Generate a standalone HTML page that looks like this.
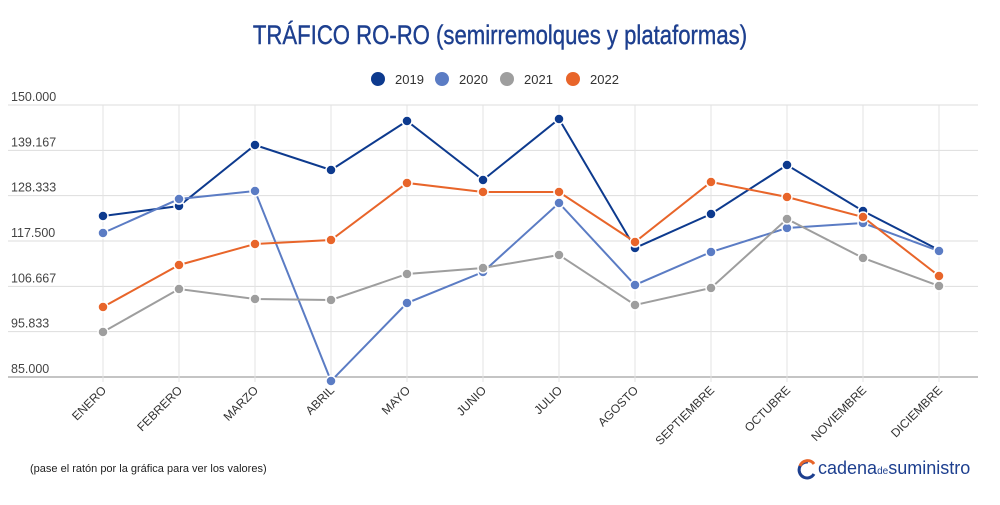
<!DOCTYPE html>
<html><head><meta charset="utf-8"><style>
body{margin:0;background:#fff;width:1000px;height:500px;overflow:hidden;font-family:"Liberation Sans",sans-serif}
</style></head><body>
<svg width="1000" height="500">
<text x="500" y="44" text-anchor="middle" font-size="27" fill="#1d3f8f" stroke="#1d3f8f" stroke-width="0.4" transform="translate(500,0) scale(0.82,1) translate(-500,0)">TRÁFICO RO-RO (semirremolques y plataformas)</text>
<g id="legend"></g>
<g id="grid"></g><g id="series"></g><g id="labels"></g>
<text x="30" y="472" font-size="11" fill="#222">(pase el ratón por la gráfica para ver los valores)</text>
<g>
<path d="M808 462 a8 8 0 1 0 6 12" fill="none" stroke="#1d3f8f" stroke-width="3"/>
<path d="M800 466 a8 8 0 0 1 14 -2" fill="none" stroke="#e8652a" stroke-width="3"/>
<text x="818" y="474" font-size="18" fill="#1d3f8f">cadena<tspan font-size="10">de</tspan>suministro</text>
</g>
</svg>
<script>
const categories=["ENERO","FEBRERO","MARZO","ABRIL","MAYO","JUNIO","JULIO","AGOSTO","SEPTIEMBRE","OCTUBRE","NOVIEMBRE","DICIEMBRE"];
const yTicks=[150000,139167,128333,117500,106667,95833,85000];
const yTickLabels=["150.000","139.167","128.333","117.500","106.667","95.833","85.000"];
const seriesNames=["2019","2020","2021","2022"];
const seriesColors=["#0d3a8e","#5b7cc4","#9e9e9e","#e8652a"];
const s2019=[123470,125860,140440,134470,146180,132080,146660,115830,123950,135660,124670,115350];
const s2020=[119410,127530,129440,84040,102680,110090,126580,106980,114870,120610,121800,115110];
const s2021=[95750,106030,103640,103400,109620,111050,114160,102210,106270,122760,113440,106750];
const s2022=[101730,111770,116790,117740,131370,129210,129210,117260,131600,128020,123230,109140];
const allSeries=[s2019,s2020,s2021,s2022];
const NS="http://www.w3.org/2000/svg";
const x0=8,x1=978,y0=105,y1=377;
const xs=i=>103+i*76.0;
const ys=v=>y1-(v-85000)/(150000-85000)*(y1-y0);
function mk(t,a,p){const e=document.createElementNS(NS,t);for(const k in a)e.setAttribute(k,a[k]);p.appendChild(e);return e;}
const grid=document.getElementById('grid'),ser=document.getElementById('series'),lab=document.getElementById('labels'),leg=document.getElementById('legend');
yTicks.forEach((v,i)=>{
 const l=mk('line',{x1:x0,x2:x1,y1:ys(v),y2:ys(v),stroke:i==yTicks.length-1?'#888':'#ddd','stroke-width':1},grid);
 
 
 const t=mk('text',{x:11,y:ys(v)-4,'font-size':12.5,fill:'#444'},lab);t.textContent=yTickLabels[i];
 
 
});
categories.forEach((c,i)=>{
 const l=mk('line',{x1:xs(i),x2:xs(i),y1:y0,y2:y1+5,stroke:'#e3e3e3','stroke-width':1},grid);
 
 
 const t=mk('text',{x:xs(i)+4,y:y1+14,'font-size':12,fill:'#333','text-anchor':'end',transform:`rotate(-45 ${xs(i)+4} ${y1+14})`},lab);t.textContent=c;
 
 
});
allSeries.forEach((s,k)=>{
 const g=mk('g',{},ser);
 
 
 const p=mk('polyline',{points:s.map((v,i)=>xs(i)+','+ys(v)).join(' '),fill:'none',stroke:seriesColors[k],'stroke-width':2},g);
 
 
 s.forEach((v,i)=>{const c=mk('circle',{cx:xs(i),cy:ys(v),r:5,fill:seriesColors[k],stroke:'#fff','stroke-width':1.5},g);
  
  });
});
const lx=[378,442,507,573];
seriesNames.forEach((n,k)=>{
 const g=mk('g',{},leg);
 
 
 mk('circle',{cx:lx[k],cy:79,r:7,fill:seriesColors[k]},g);
 const t=mk('text',{x:lx[k]+17,y:84,'font-size':13,fill:'#333'},g);t.textContent=n;
});
</script>
</body></html>
